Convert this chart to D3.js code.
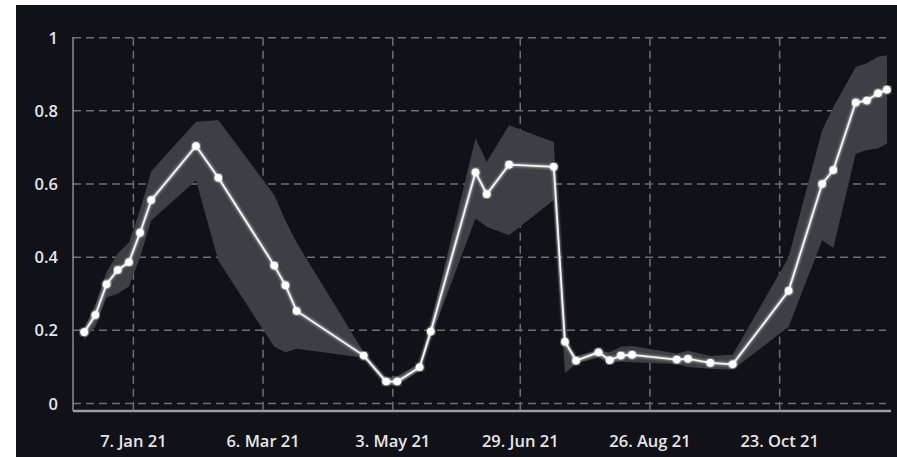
<!DOCTYPE html>
<html>
<head>
<meta charset="utf-8">
<script src="https://cdn.jsdelivr.net/npm/d3@7"></script>
<style>
	body { margin: 0; background: #ffffff; }
	svg { display: block; }
</style>
</head>
<body>
<svg id="svg" width="897" height="457"></svg>
<script>
// data
var dates = ["2020-12-16","2020-12-21","2020-12-26","2020-12-31","2021-01-05","2021-01-10","2021-01-15",
	"2021-02-04","2021-02-14","2021-03-11","2021-03-16","2021-03-21","2021-04-20","2021-04-30","2021-05-05",
	"2021-05-15","2021-05-20","2021-06-09","2021-06-14","2021-06-24","2021-07-14","2021-07-19","2021-07-24",
	"2021-08-03","2021-08-08","2021-08-13","2021-08-18","2021-09-07","2021-09-12","2021-09-22","2021-10-02",
	"2021-10-27","2021-11-11","2021-11-16","2021-11-26","2021-12-01","2021-12-06","2021-12-10"];
var values = [0.195,0.242,0.326,0.365,0.386,0.467,0.556,
	0.704,0.617,0.377,0.323,0.253,0.131,0.060,0.060,
	0.099,0.197,0.632,0.572,0.653,0.647,0.169,0.117,
	0.140,0.118,0.131,0.133,0.120,0.122,0.111,0.107,
	0.308,0.600,0.638,0.823,0.828,0.848,0.858];
var lows = [0.175,0.21,0.29,0.30,0.32,0.40,0.50,
	0.61,0.39,0.155,0.14,0.15,0.125,0.05,0.05,
	0.09,0.18,0.506,0.483,0.46,0.556,0.083,0.11,
	0.125,0.11,0.115,0.113,0.108,0.10,0.095,0.092,
	0.21,0.446,0.425,0.683,0.693,0.697,0.711];
var highs = [0.205,0.27,0.36,0.41,0.44,0.53,0.635,
	0.77,0.775,0.57,0.50,0.44,0.14,0.07,0.075,
	0.11,0.22,0.725,0.66,0.761,0.715,0.175,0.13,
	0.145,0.14,0.155,0.157,0.137,0.144,0.13,0.133,
	0.40,0.747,0.81,0.92,0.93,0.948,0.952];
var tickDates = ["2021-01-07","2021-03-06","2021-05-03","2021-06-29","2021-08-26","2021-10-23"];
var yTicks = [0, 0.2, 0.4, 0.6, 0.8, 1];

var parse = d3.utcParse("%Y-%m-%d");
var fmt = d3.utcFormat("%-d. %b %y");
var svg = d3.select("#svg");

var x = d3.scaleUtc().domain([parse("2020-12-11"), parse("2021-12-10")]).range([73, 887]);
var y = d3.scaleLinear().domain([0, 1]).range([403.5, 37.7]);

var points = [];
for(var i = 0; i < dates.length; i++){
	points.push({d: parse(dates[i]), v: values[i], lo: lows[i], hi: highs[i]});
}

// background panel
svg.append("rect").attr("x", 16).attr("y", 5).attr("width", 881).attr("height", 452).attr("fill", "#111118");

// grid
var grid = svg.append("g");
grid.selectAll("line.h").data(yTicks).enter().append("line")
	.attr("x1", 73).attr("x2", 886)
	.attr("y1", function(d){ return y(d); }).attr("y2", function(d){ return y(d); })
	.attr("stroke", "#6e6e74").attr("stroke-width", 1.5).attr("stroke-dasharray", "8,5");
grid.selectAll("line.v").data(tickDates).enter().append("line")
	.attr("x1", function(d){ return x(parse(d)); }).attr("x2", function(d){ return x(parse(d)); })
	.attr("y1", 37.7).attr("y2", 410)
	.attr("stroke", "#6e6e74").attr("stroke-width", 1.5).attr("stroke-dasharray", "8,5");

// range band
var area = d3.area()
	.x(function(d){ return x(d.d); })
	.y0(function(d){ return y(d.lo); })
	.y1(function(d){ return y(d.hi); });
svg.append("path").datum(points).attr("d", area).attr("fill", "#3e3f45");

// axes lines
svg.append("line").attr("x1", 73).attr("x2", 73).attr("y1", 37).attr("y2", 411)
	.attr("stroke", "#a9a9b0").attr("stroke-width", 1.2);
svg.append("line").attr("x1", 73).attr("x2", 891).attr("y1", 411).attr("y2", 411)
	.attr("stroke", "#9c9ca4").attr("stroke-width", 2.5);

// main line
var glow = svg.append("defs").append("filter").attr("id", "glow");
glow.append("feGaussianBlur").attr("stdDeviation", 1.5).attr("result", "b");
var merge = glow.append("feMerge");
merge.append("feMergeNode").attr("in", "b");
merge.append("feMergeNode").attr("in", "SourceGraphic");

var line = d3.line()
	.x(function(d){ return x(d.d); })
	.y(function(d){ return y(d.v); });
svg.append("path").datum(points).attr("d", line)
	.attr("fill", "none").attr("stroke", "#f4f4f4").attr("stroke-width", 1.8).attr("filter", "url(#glow)");
svg.append("g").selectAll("circle").data(points).enter().append("circle")
	.attr("cx", function(d){ return x(d.d); })
	.attr("cy", function(d){ return y(d.v); })
	.attr("r", 3.8).attr("fill", "#ffffff").attr("filter", "url(#glow)");

// tick labels
svg.append("g").selectAll("text").data(yTicks).enter().append("text")
	.attr("x", 58).attr("y", function(d){ return y(d) + 6; })
	.attr("text-anchor", "end")
	.attr("font-family", "'Open Sans', sans-serif").attr("font-size", 16.5).attr("font-weight", 600)
	.attr("fill", "#e6e6e6")
	.text(function(d){ return d3.format("~g")(d); });
svg.append("g").selectAll("text").data(tickDates).enter().append("text")
	.attr("x", function(d){ return x(parse(d)); }).attr("y", 447)
	.attr("text-anchor", "middle")
	.attr("font-family", "'Open Sans', sans-serif").attr("font-size", 16.5).attr("font-weight", 600)
	.attr("fill", "#e6e6e6")
	.text(function(d){ return fmt(parse(d)); });
</script>
</body>
</html>
